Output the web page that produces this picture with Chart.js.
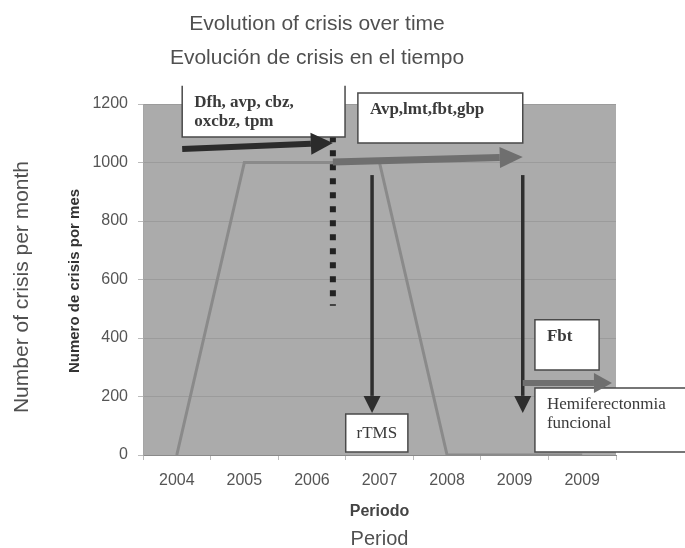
<!DOCTYPE html>
<html>
<head>
<meta charset="utf-8">
<script src="https://cdn.jsdelivr.net/npm/chart.js@4.4.1/dist/chart.umd.min.js"></script>
<style>
  html, body { margin: 0; padding: 0; background: #ffffff; }
  #wrap { width: 685px; height: 548px; }
</style>
</head>
<body>
<div id="wrap"><canvas id="c" width="685" height="548"></canvas></div>
<script>
// ---- data ----
const categories = ["2004", "2005", "2006", "2007", "2008", "2009", "2009"];
const crisisPerMonth = [0, 1000, 1000, 1000, 0, 0, 0];
const yTicks = [0, 200, 400, 600, 800, 1000, 1200];

const titleLines = ["Evolution of crisis over time", "Evolución de crisis en el tiempo"];
const yTitleEn = "Number of crisis per month";
const yTitleEs = "Numero de crisis por mes";
const xTitleEs = "Periodo";
const xTitleEn = "Period";

// annotation boxes (x in category index units, y in data units)
const boxes = [
  { x1: 0.08, x2: 2.49, y1: 1262, y2: 1087, lines: ["Dfh, avp, cbz,", "oxcbz, tpm"], bold: true, noTop: true },
  { x1: 2.68, x2: 5.12, y1: 1238, y2: 1067, lines: ["Avp,lmt,fbt,gbp"], bold: true },
  { x1: 2.50, x2: 3.42, y1: 140, y2: 10, lines: ["rTMS"], bold: false, center: true },
  { x1: 5.30, x2: 6.25, y1: 462, y2: 291, lines: ["Fbt"], bold: true },
  { x1: 5.30, x2: 7.55, y1: 229, y2: 10, lines: ["Hemiferectonmia", "funcional"], bold: false }
];
const arrows = [
  { x1: 0.08, y1: 1046, x2: 2.31, y2: 1067, color: "#2b2b2b", shaft: 6, headL: 22, headW: 22 },
  { x1: 2.31, y1: 1002, x2: 5.12, y2: 1019, color: "#6f6f6f", shaft: 7, headL: 23, headW: 21 },
  { x1: 2.89, y1: 957, x2: 2.89, y2: 144, color: "#2e2e2e", shaft: 3.5, headL: 17, headW: 17 },
  { x1: 5.12, y1: 957, x2: 5.12, y2: 144, color: "#2e2e2e", shaft: 3.5, headL: 17, headW: 17 },
  { x1: 5.12, y1: 246, x2: 6.44, y2: 246, color: "#6f6f6f", shaft: 6, headL: 18, headW: 20 }
];
const dotted = { x: 2.31, y1: 1138, y2: 510 };

function drawArrow(ctx, ax, ay, bx, by, a) {
  const ang = Math.atan2(by - ay, bx - ax);
  const sx = bx - Math.cos(ang) * a.headL, sy = by - Math.sin(ang) * a.headL;
  ctx.save();
  ctx.strokeStyle = a.color; ctx.fillStyle = a.color;
  ctx.lineWidth = a.shaft; ctx.lineCap = "butt";
  ctx.beginPath(); ctx.moveTo(ax, ay); ctx.lineTo(sx, sy); ctx.stroke();
  const px = -Math.sin(ang) * a.headW / 2, py = Math.cos(ang) * a.headW / 2;
  ctx.beginPath();
  ctx.moveTo(bx, by); ctx.lineTo(sx + px, sy + py); ctx.lineTo(sx - px, sy - py);
  ctx.closePath(); ctx.fill();
  ctx.restore();
}

const SANS = "'Liberation Sans', Arial, sans-serif";
const SERIF = "'Liberation Serif', 'DejaVu Serif', serif";

const decorPlugin = {
  id: "decor",
  beforeDraw(chart) {
    const { ctx, chartArea: ca } = chart;
    ctx.save();
    ctx.fillStyle = "#ababab";
    ctx.fillRect(ca.left, ca.top, ca.right - ca.left, ca.bottom - ca.top);
    ctx.restore();
  },
  afterDatasetsDraw(chart) {
    const { ctx } = chart;
    const xs = chart.scales.x, ys = chart.scales.y;
    const X = v => xs.getPixelForValue(v), Y = v => ys.getPixelForValue(v);

    // dotted vertical line
    ctx.save();
    ctx.strokeStyle = "#222"; ctx.lineWidth = 6; ctx.setLineDash([6, 8]);
    ctx.beginPath(); ctx.moveTo(X(dotted.x), Y(dotted.y1)); ctx.lineTo(X(dotted.x), Y(dotted.y2)); ctx.stroke();
    ctx.restore();

    // boxes
    boxes.forEach(b => {
      const l = X(b.x1), r = X(b.x2), t = Y(b.y1), bt = Y(b.y2);
      ctx.save();
      ctx.fillStyle = "#ffffff";
      ctx.fillRect(l, t, r - l, bt - t);
      ctx.strokeStyle = "#4a4a4a"; ctx.lineWidth = 1.5;
      ctx.beginPath();
      if (b.noTop) {
        ctx.moveTo(l, t); ctx.lineTo(l, bt); ctx.lineTo(r, bt); ctx.lineTo(r, t);
      } else {
        ctx.rect(l, t, r - l, bt - t);
      }
      ctx.stroke();
      ctx.fillStyle = "#3a3a3a";
      ctx.font = (b.bold ? "bold " : "") + "17px " + SERIF;
      ctx.textBaseline = "middle";
      ctx.textAlign = b.center ? "center" : "left";
      b.lines.forEach((ln, i) => {
        const tx = b.center ? (l + r) / 2 : l + 12;
        const ty = b.center ? (t + bt) / 2 : t + 17 + i * 19;
        ctx.fillText(ln, tx, ty);
      });
      ctx.restore();
    });

    // arrows
    arrows.forEach(a => drawArrow(ctx, X(a.x1), Y(a.y1), X(a.x2), Y(a.y2), a));
  },
  afterDraw(chart) {
    const { ctx, chartArea: ca } = chart;
    const cx = (ca.left + ca.right) / 2;
    ctx.save();
    ctx.fillStyle = "#505050";
    ctx.textAlign = "center"; ctx.textBaseline = "middle";
    ctx.font = "21px " + SANS;
    ctx.fillText(titleLines[0], 317, 24);
    ctx.fillText(titleLines[1], 317, 58);
    // x titles
    ctx.font = "bold 16px " + SANS;
    ctx.fillStyle = "#444";
    ctx.fillText(xTitleEs, cx, 512);
    ctx.fillStyle = "#505050";
    ctx.font = "20px " + SANS;
    ctx.fillText(xTitleEn, cx, 539);
    // y titles
    ctx.save();
    ctx.translate(22, 287); ctx.rotate(-Math.PI / 2);
    ctx.font = "21px " + SANS;
    ctx.fillText(yTitleEn, 0, 0);
    ctx.restore();
    ctx.save();
    ctx.translate(75, 281); ctx.rotate(-Math.PI / 2);
    ctx.font = "bold 15px " + SANS;
    ctx.fillStyle = "#333";
    ctx.fillText(yTitleEs, 0, 0);
    ctx.restore();
    ctx.restore();
  }
};

new Chart(document.getElementById("c"), {
  type: "line",
  data: {
    labels: categories,
    datasets: [{
      data: crisisPerMonth,
      borderColor: "#8a8a8a",
      borderWidth: 3,
      pointRadius: 0,
      tension: 0,
      fill: false
    }]
  },
  options: {
    responsive: false,
    animation: false,
    layout: { padding: { left: 83, right: 69, top: 104, bottom: 53 } },
    plugins: { legend: { display: false }, title: { display: false }, tooltip: { enabled: false } },
    scales: {
      x: {
        offset: true,
        afterFit(s) { s.height = 40; },
        grid: { display: true, drawOnChartArea: false, offset: true, tickLength: 5, color: "#bbbbbb" },
        border: { display: true, color: "#8a8a8a", width: 1 },
        ticks: { color: "#555", padding: 11, font: { family: SANS, size: 16 } }
      },
      y: {
        min: 0, max: 1200,
        afterFit(s) { s.width = 60; },
        afterBuildTicks(s) { s.ticks = yTicks.map(v => ({ value: v })); },
        grid: { color: "#9b9b9b", lineWidth: 1, tickLength: 5, tickColor: "#bbbbbb" },
        border: { display: true, color: "#a5a5a5" },
        ticks: { color: "#555", padding: 10, font: { family: SANS, size: 16 }, callback: v => String(v) }
      }
    }
  },
  plugins: [decorPlugin]
});
</script>
</body>
</html>
